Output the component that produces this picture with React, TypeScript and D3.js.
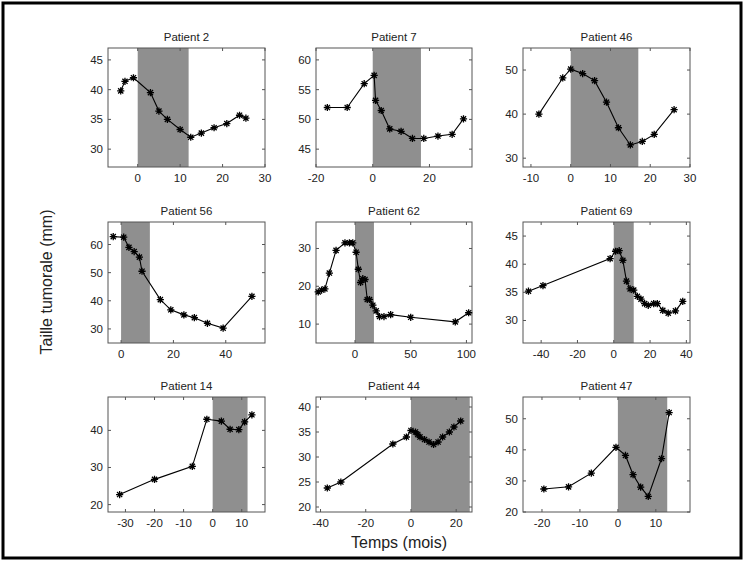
import * as d3 from 'd3';

type Pt = [number, number];

// panel titles
const titles = ['Patient 2', 'Patient 7', 'Patient 46', 'Patient 56', 'Patient 62', 'Patient 69', 'Patient 14', 'Patient 44', 'Patient 47'];

// series values [month, size]
const p2: Pt[] = [[-4, 39.8], [-3, 41.4], [-1, 42], [3, 39.5], [5, 36.4], [7, 35], [10, 33.3], [12.5, 32], [15, 32.7], [18, 33.6], [21, 34.3], [24, 35.7], [25.5, 35.2]];
const p7: Pt[] = [[-16, 52], [-9, 52], [-3, 56], [0.5, 57.4], [1, 53.2], [3, 51.5], [6, 48.4], [10, 48], [14, 46.8], [18, 46.8], [23, 47.2], [28, 47.5], [32, 50.1]];
const p46: Pt[] = [[-8, 40], [-2, 48.2], [0, 50.2], [3, 49.2], [6, 47.6], [9, 42.7], [12, 36.9], [15, 33], [18, 33.8], [21, 35.4], [26, 41]];
const p56: Pt[] = [[-3, 62.8], [1, 62.6], [3, 59], [5, 57.5], [7, 55.5], [8, 50.5], [15, 40.4], [19, 36.8], [24, 35], [28, 34], [33, 32], [39, 30.3], [50, 41.6]];
const p62: Pt[] = [[-33, 18.5], [-30, 19], [-27, 19.3], [-23, 23.5], [-17, 29.5], [-9, 31.5], [-5, 31.5], [-2, 31.5], [1, 29], [3, 24.5], [5, 21], [7, 22], [9, 21.8], [11, 16.5], [13, 16.5], [16, 15], [19, 13.5], [22, 12], [26, 12], [32, 12.5], [50, 11.8], [90, 10.6], [102, 13]];
const p69: Pt[] = [[-47, 35.2], [-39, 36.2], [-2, 41], [1, 42.3], [3, 42.4], [5, 40.7], [7, 37], [9, 35.6], [11, 35.4], [13, 34.3], [15, 33.8], [17, 33], [19, 32.7], [22, 33], [24, 33], [27, 31.8], [30, 31.3], [34, 31.7], [38, 33.4]];
const p14: Pt[] = [[-32, 22.7], [-20, 26.8], [-7, 30.3], [-2, 43], [3, 42.5], [6, 40.3], [9, 40.2], [11, 42.3], [13.5, 44.2]];
const p44: Pt[] = [[-37, 23.8], [-31, 25], [-8, 32.6], [-2, 34], [0, 35.3], [2, 35], [3, 34.5], [4, 34], [6, 33.5], [8, 33], [10, 32.5], [12, 33], [14, 34], [17, 35], [19, 36], [22, 37.2]];
const p47: Pt[] = [[-19.5, 27.4], [-13, 28.1], [-7, 32.5], [-0.5, 40.8], [2, 38.2], [4, 32], [6, 28], [8, 25], [11.5, 37.2], [13.5, 52]];
const series = [p2, p7, p46, p56, p62, p69, p14, p44, p47];

// treatment windows (months)
const shadeEnds = [12, 17, 17, 11, 17, 11, 12, 26, 13];

// axis ranges and tick labels
const xDomains: Pt[] = [[-7, 30], [-20, 35], [-12, 30], [-5, 55], [-35, 105], [-50, 42], [-36, 18], [-42, 27], [-25, 19]];
const yDomains: Pt[] = [[27, 47], [42, 62], [28, 55], [25, 68], [5, 37], [26, 47.5], [18, 49], [19, 42], [20, 57]];
const xTicks = [[0, 10, 20, 30], [-20, 0, 20], [-10, 0, 10, 20, 30], [0, 20, 40], [0, 50, 100], [-40, -20, 0, 20, 40], [-30, -20, -10, 0, 10], [-40, -20, 0, 20], [-20, -10, 0, 10]];
const yTicks = [[30, 35, 40, 45], [45, 50, 55, 60], [30, 40, 50], [30, 40, 50, 60], [10, 20, 30], [30, 35, 40, 45], [20, 30, 40], [20, 25, 30, 35, 40], [20, 30, 40, 50]];

const colX: Pt[] = [[108, 265], [316, 472], [523, 690]];
const rowY: Pt[] = [[48, 167], [222, 343], [397, 512]];
const font = 'Liberation Sans, Arial, sans-serif';

function Star({x, y}: {x: number, y: number}) {
  const r = 3.6;
  const d = r * 0.72;
  return <path d={`M${x - r},${y}H${x + r}M${x},${y - r}V${y + r}M${x - d},${y - d}L${x + d},${y + d}M${x - d},${y + d}L${x + d},${y - d}`}
    stroke="#000" strokeWidth={1.3} />;
}

function Panel({i}: {i: number}) {
  const [x0, x1] = colX[i % 3];
  const [y0, y1] = rowY[Math.floor(i / 3)];
  const x = d3.scaleLinear().domain(xDomains[i]).range([x0, x1]);
  const y = d3.scaleLinear().domain(yDomains[i]).range([y1, y0]);
  const line = d3.line<Pt>().x(d => x(d[0])).y(d => y(d[1]));
  const data = series[i];
  return <g fontFamily={font} fontSize={11.5} fill="#222">
    <rect x={x(0)} y={y0} width={x(shadeEnds[i]) - x(0)} height={y1 - y0} fill="#8f8f8f" />
    <rect x={x0} y={y0} width={x1 - x0} height={y1 - y0} fill="none" stroke="#555" strokeWidth={1} />
    {xTicks[i].map(t => <g key={'x' + t}>
      <line x1={x(t)} x2={x(t)} y1={y1} y2={y1 - 3} stroke="#555" />
      <line x1={x(t)} x2={x(t)} y1={y0} y2={y0 + 3} stroke="#555" />
      <text x={x(t)} y={y1 + 15} textAnchor="middle">{t}</text>
    </g>)}
    {yTicks[i].map(t => <g key={'y' + t}>
      <line x1={x0} x2={x0 + 3} y1={y(t)} y2={y(t)} stroke="#555" />
      <line x1={x1} x2={x1 - 3} y1={y(t)} y2={y(t)} stroke="#555" />
      <text x={x0 - 5} y={y(t) + 4} textAnchor="end">{t}</text>
    </g>)}
    <path d={line(data) ?? ''} fill="none" stroke="#000" strokeWidth={1.1} />
    {data.map((d, k) => <Star key={k} x={x(d[0])} y={y(d[1])} />)}
    <text x={(x0 + x1) / 2} y={y0 - 7} textAnchor="middle" fontSize={11.5}>{titles[i]}</text>
  </g>;
}

export default function App() {
  return <svg width={745} height={562} style={{position: 'absolute', left: 0, top: 0, background: '#fff'}}>
    <rect x={3} y={3} width={738} height={555} fill="#fff" stroke="#000" strokeWidth={3} />
    {titles.map((_, i) => <Panel key={i} i={i} />)}
    <text x={399} y={548} textAnchor="middle" fontFamily={font} fontSize={16} fill="#222">Temps (mois)</text>
    <text transform="translate(52,282) rotate(-90)" textAnchor="middle" fontFamily={font} fontSize={16} fill="#222">Taille tumorale (mm)</text>
  </svg>;
}
